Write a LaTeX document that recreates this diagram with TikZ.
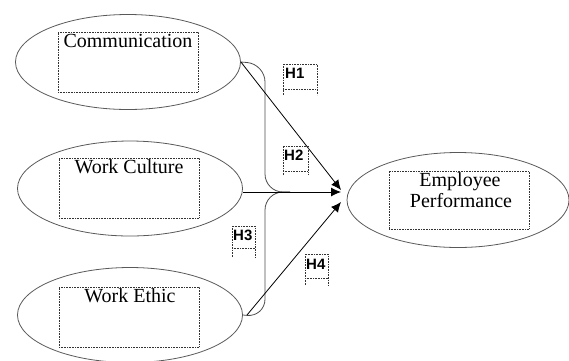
\documentclass[tikz,border=0pt]{standalone}
\usepackage{fontspec}
\setmainfont{Liberation Serif}
\newfontfamily\hfont{Liberation Sans}
\usetikzlibrary{shapes.geometric,arrows.meta}
\begin{document}
\begin{tikzpicture}[x=1pt,y=-1pt,
  construct/.style={draw=black!65,line width=0.8pt,ellipse,inner sep=0pt,
    minimum width=225pt,minimum height=95pt},
  textframe/.style={draw=black!80,densely dotted,line width=0.6pt,inner sep=0pt,
    minimum width=140pt,minimum height=60pt},
  lbl/.style={font=\fontsize{20}{22}\selectfont,inner sep=0pt,anchor=base},
  hyp/.style={font=\hfont\bfseries\fontsize{15}{15}\selectfont,inner sep=0pt,anchor=base west},
  hframe/.style={draw=black!80,densely dotted,line width=0.6pt},
  path/.style={draw=black,line width=0.8pt,-{Latex[length=10pt,width=9pt]}},
  brace/.style={draw=black!70,line width=0.8pt,rounded corners=18pt}]
\useasboundingbox (0,0) rectangle (569,360);

% constructs
\node[construct] (comm) at (128,62) {};
\node[construct] (cult) at (130,188.5) {};
\node[construct] (ethic) at (130,315) {};
\node[construct,minimum width=222pt] (perf) at (458,200) {};

% dotted text frames
\node[textframe] (commbox) at (128,62) {};
\node[textframe] (cultbox) at (129,188) {};
\node[textframe] (ethicbox) at (129,317) {};
\node[textframe,minimum height=58pt] (perfbox) at (459,200) {};

% construct labels
\node[lbl] (commtxt) at (128,47) {Communication};
\node[lbl] (culttxt) at (129,173) {Work Culture};
\node[lbl] (ethictxt) at (130,302) {Work Ethic};
\node[lbl] (perftxt1) at (460,186) {Employee};
\node[lbl] (perftxt2) at (461,207) {Performance};

% arrow end points near the dependent construct
\coordinate (tipA) at (341,190);
\coordinate (tipB) at (341,192);
\coordinate (tipC) at (341,202);
\coordinate (startD) at (247,315);
\coordinate (braceTip) at (290,192);

% bracket joining the three predictors
\draw[brace] (comm.east) -- (265,64) -- (265,192) -- (braceTip);
\draw[brace] (braceTip) -- (265,192) -- (265,317) -- (ethic.east);

% hypothesis paths
\draw[path] (comm.east) -- (tipA);
\draw[path] (cult.east |- tipB) -- (tipB);
\draw[path] (startD) -- (tipC);

% hypothesis labels with their frames
\draw[hframe] (283,95) -- (283,64) -- (317,64) -- (317,95) (283,89) -- (317,89);
\node[hyp] (h1) at (285,78) {H1};
\draw[hframe] (283,175) -- (283,146) -- (308,146) -- (308,175) (283,171) -- (308,171);
\node[hyp] (h2) at (284,160) {H2};
\draw[hframe] (232,257) -- (232,226) -- (255,226) -- (255,257) (232,248) -- (255,248);
\node[hyp] (h3) at (233,240) {H3};
\draw[hframe] (305,285) -- (305,254) -- (328,254) -- (328,285) (305,278) -- (328,278);
\node[hyp] (h4) at (306,269) {H4};
\end{tikzpicture}
\end{document}
